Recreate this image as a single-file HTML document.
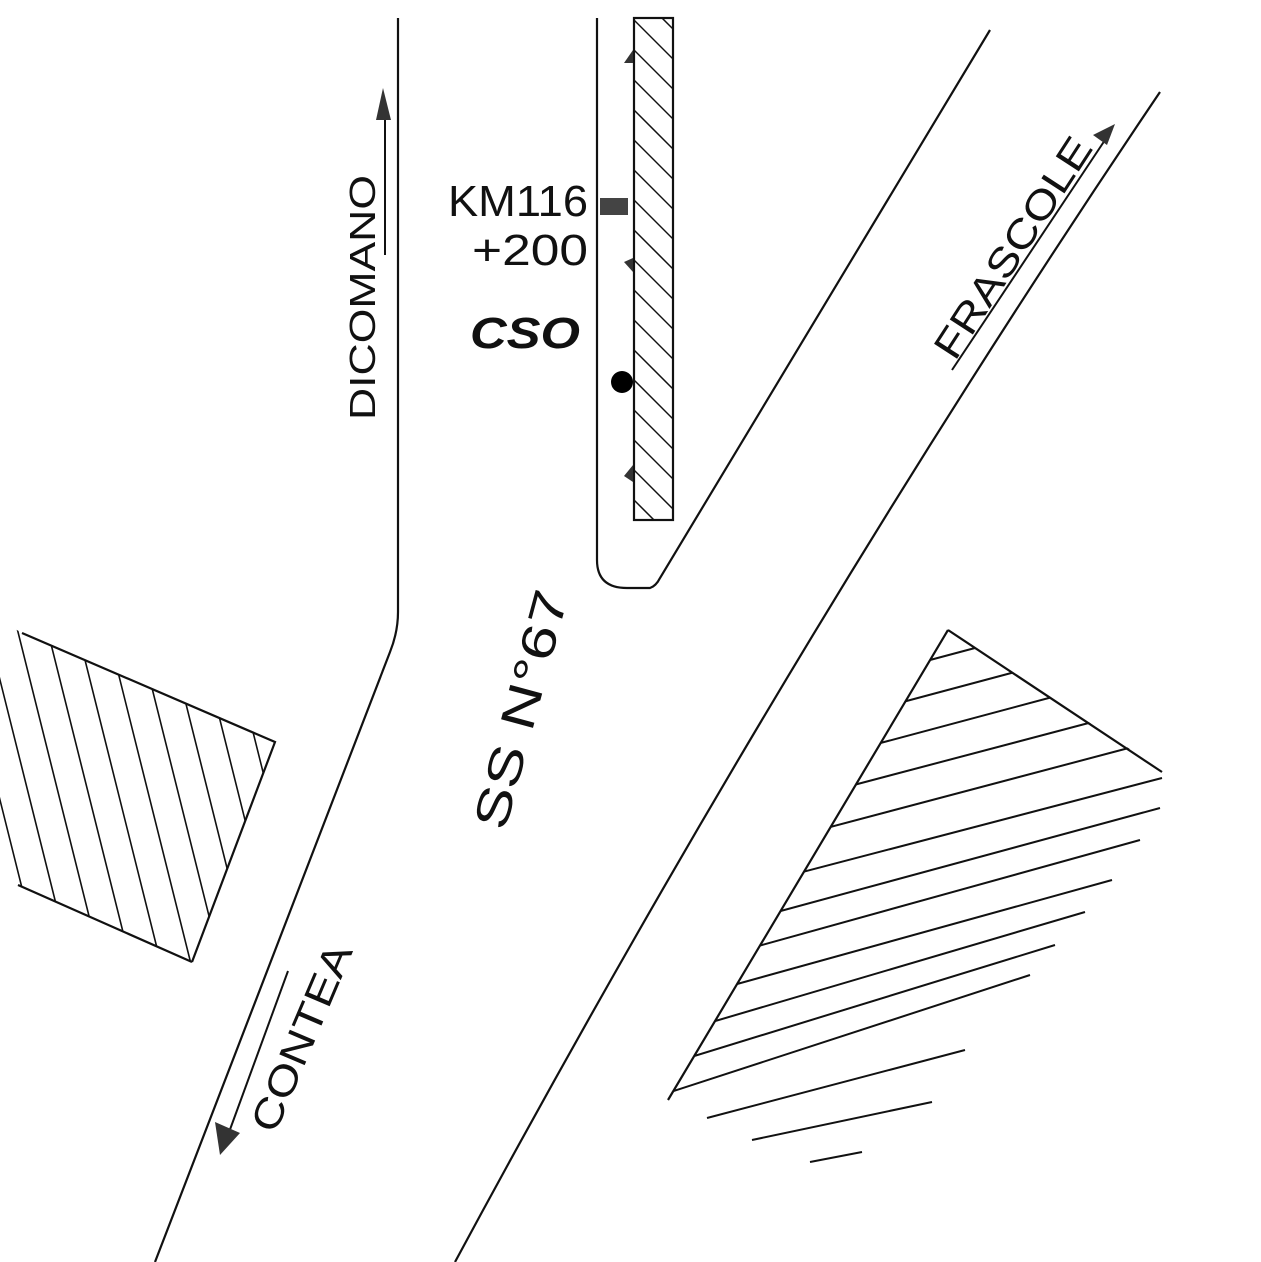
<!DOCTYPE html>
<html><head><meta charset="utf-8"><style>
html,body{margin:0;padding:0;background:#fff}
svg{display:block}
text{font-family:"Liberation Sans",sans-serif;fill:#111}
</style></head><body>
<svg width="1261" height="1262" viewBox="0 0 1261 1262" xmlns="http://www.w3.org/2000/svg">
<defs>
<clipPath id="lb"><polygon points="22,633 275,742 192,962 18,885 0,878 0,620"/></clipPath>
<clipPath id="rb"><polygon points="948,630 1165,772 1261,772 1261,1262 600,1262 668,1100"/></clipPath>
<clipPath id="mh"><rect x="634" y="18" width="39" height="502"/></clipPath>
</defs>
<g stroke="#111" stroke-width="2.2" fill="none">
<path d="M398,18 L398,612 Q398,632 390,652 L155,1262"/>
<path d="M597,18 L597,560 Q597,588 627,588 L650,588 Q656,586 660,578 L990,30"/>
<rect x="634" y="18" width="39" height="502"/>
<path d="M1160,92 Q790,640 455,1262"/>
<path d="M22,633 L275,742 L192,962 M18,885 L192,962"/>
<path d="M948,630 L1162,772 M948,630 L668,1100"/>
</g>
<g stroke="#111" stroke-width="1.5" clip-path="url(#mh)">
<path d="M634,20 l40,40 M634,50 l40,40 M634,80 l40,40 M634,110 l40,40 M634,140 l40,40 M634,170 l40,40 M634,200 l40,40 M634,230 l40,40 M634,260 l40,40 M634,290 l40,40 M634,320 l40,40 M634,350 l40,40 M634,380 l40,40 M634,410 l40,40 M634,440 l40,40 M634,470 l40,40 M634,500 l40,40 M634,-10 l40,40"/>
</g>
<g stroke="#111" stroke-width="1.6" clip-path="url(#lb)">
<path d="M-50,600 l100,400 M-20,600 l100,400 M10,600 l100,400 M40,600 l100,400 M70,600 l100,400 M100,600 l100,400 M130,600 l100,400 M160,600 l100,400 M190,600 l100,400 M220,600 l100,400 M250,600 l100,400"/>
</g>
<g stroke="#111" stroke-width="2" clip-path="url(#rb)">
<path d="M600,748 L975,648 M600,783 L1015,672 M600,818 L1060,695 M600,852 L1100,720 M600,888 L1140,745 M600,925 L1162,778 M600,960 L1160,808 M600,990 L1140,840 M600,1022 L1112,880 M600,1055 L1085,912 M600,1085 L1055,945 M600,1115 L1030,975"/>
</g>
<g stroke="#111" stroke-width="2">
<path d="M707,1118 L965,1050 M752,1140 L932,1102 M810,1162 L862,1152"/>
</g>
<rect x="600" y="198" width="28" height="17" fill="#444"/>
<circle cx="622" cy="382" r="11" fill="#000"/>
<g fill="#333">
<polygon points="633,50 624,63 633,63"/>
<polygon points="633,258 624,262 633,272"/>
<polygon points="633,465 624,476 633,482"/>
</g>
<line x1="385" y1="115" x2="385" y2="255" stroke="#111" stroke-width="2"/>
<polygon points="383,88 376,120 391,120" fill="#333"/>
<line x1="952" y1="370" x2="1105" y2="140" stroke="#111" stroke-width="2"/>
<polygon points="1115,124 1093,135 1107,145" fill="#333"/>
<line x1="288" y1="971" x2="228" y2="1135" stroke="#111" stroke-width="2"/>
<polygon points="220,1155 215,1122 240,1133" fill="#333"/>
<text x="448" y="216" font-size="44" textLength="140" lengthAdjust="spacingAndGlyphs">KM116</text>
<text x="472" y="265" font-size="44" textLength="116" lengthAdjust="spacingAndGlyphs">+200</text>
<text x="470" y="348" font-size="44" font-weight="bold" font-style="italic" textLength="110" lengthAdjust="spacingAndGlyphs" fill="#000">CSO</text>
<text transform="translate(375,420) rotate(-90)" font-size="36" textLength="245" lengthAdjust="spacingAndGlyphs">DICOMANO</text>
<text transform="translate(955,362) rotate(-57)" font-size="40" textLength="255" lengthAdjust="spacingAndGlyphs">FRASCOLE</text>
<text transform="translate(275,1135) rotate(-67)" font-size="40" textLength="200" lengthAdjust="spacingAndGlyphs">CONTEA</text>
<text transform="translate(505,832) rotate(-75)" font-size="48" textLength="245" lengthAdjust="spacingAndGlyphs">SS N°67</text>
</svg>
</body></html>
